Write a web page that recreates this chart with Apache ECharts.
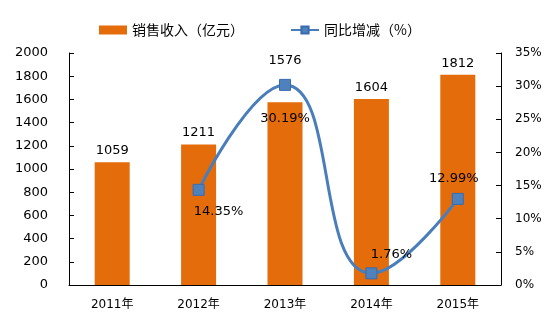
<!DOCTYPE html>
<html><head><meta charset="utf-8">
<script src="https://cdn.jsdelivr.net/npm/echarts@6/dist/echarts.min.js"></script>
<style>html,body{margin:0;padding:0;background:#fff}#c{width:550px;height:336px}</style>
</head><body><div id="c"></div>
<script>
var categories = ['2011年','2012年','2013年','2014年','2015年'];
var revenue = [1059, 1211, 1576, 1604, 1812];
var growth = [null, 14.35, 30.19, 1.76, 12.99];
var leftTicks = {min:0, max:2000, interval:200};
var rightTicks = {min:0, max:35, interval:5};

var font = '"DejaVu Sans", "Noto Sans CJK SC", sans-serif';
var cjk = '"Noto Sans CJK SC", sans-serif';
var growthLabelOffset = [[0,0],[20,22],[0,34],[20,-19],[-4,-20]];
var revenueLabelOffset = [[0,0],[0,0],[0,-30],[0,0],[0,0]];
var chart = echarts.init(document.getElementById('c'));
chart.setOption({
  animation:false,
  textStyle:{fontFamily:font},
  legend:{
    top:18, left:94, itemGap:46, itemWidth:28, itemHeight:9,
    textStyle:{fontSize:14, color:'#000', fontFamily:cjk},
    data:[{name:'销售收入（亿元）', icon:'rect'}, {name:'同比增减（%）'}]
  },
  grid:{left:69, right:49, top:53, bottom:51},
  xAxis:{
    type:'category', data:categories,
    axisLine:{lineStyle:{color:'#000'}},
    axisTick:{inside:true, alignWithLabel:false, lineStyle:{color:'#000'}},
    axisLabel:{color:'#000', fontSize:12, margin:14, fontFamily:font}
  },
  yAxis:[{
    type:'value', min:leftTicks.min, max:leftTicks.max, interval:leftTicks.interval,
    axisLine:{show:true, lineStyle:{color:'#000'}},
    axisTick:{show:true, inside:true, lineStyle:{color:'#000'}},
    splitLine:{show:false},
    axisLabel:{color:'#000', fontSize:13, margin:21, fontFamily:font, formatter:function(v){return String(v);}}
  },{
    type:'value', min:rightTicks.min, max:rightTicks.max, interval:rightTicks.interval,
    axisLine:{show:true, lineStyle:{color:'#000'}},
    axisTick:{show:true, inside:true, lineStyle:{color:'#000'}},
    splitLine:{show:false},
    axisLabel:{color:'#000', fontSize:12, margin:14, fontFamily:font, formatter:'{value}%'}
  }],
  series:[{
    name:'销售收入（亿元）', type:'bar', data:revenue.map(function(v,i){return {value:v, label:{offset:revenueLabelOffset[i]}};}), barWidth:35,
    itemStyle:{color:'#E46C0A'},
    label:{show:true, position:'top', color:'#000', fontSize:13, distance:5, fontFamily:font}
  },{
    name:'同比增减（%）', type:'line', yAxisIndex:1, smooth:0.5,
    data:growth.map(function(v,i){return {value:v, label:{offset:growthLabelOffset[i]}};}),
    symbol:'rect', symbolSize:11,
    lineStyle:{color:'#4A7EBB', width:3},
    itemStyle:{color:'#4F81BD', borderColor:'#3A6BB0', borderWidth:1},
    label:{show:true, position:'inside', color:'#000', fontSize:13, fontFamily:font, formatter:function(p){return p.value==null?'':p.value.toFixed(2)+'%';}}
  }]
});
</script></body></html>
